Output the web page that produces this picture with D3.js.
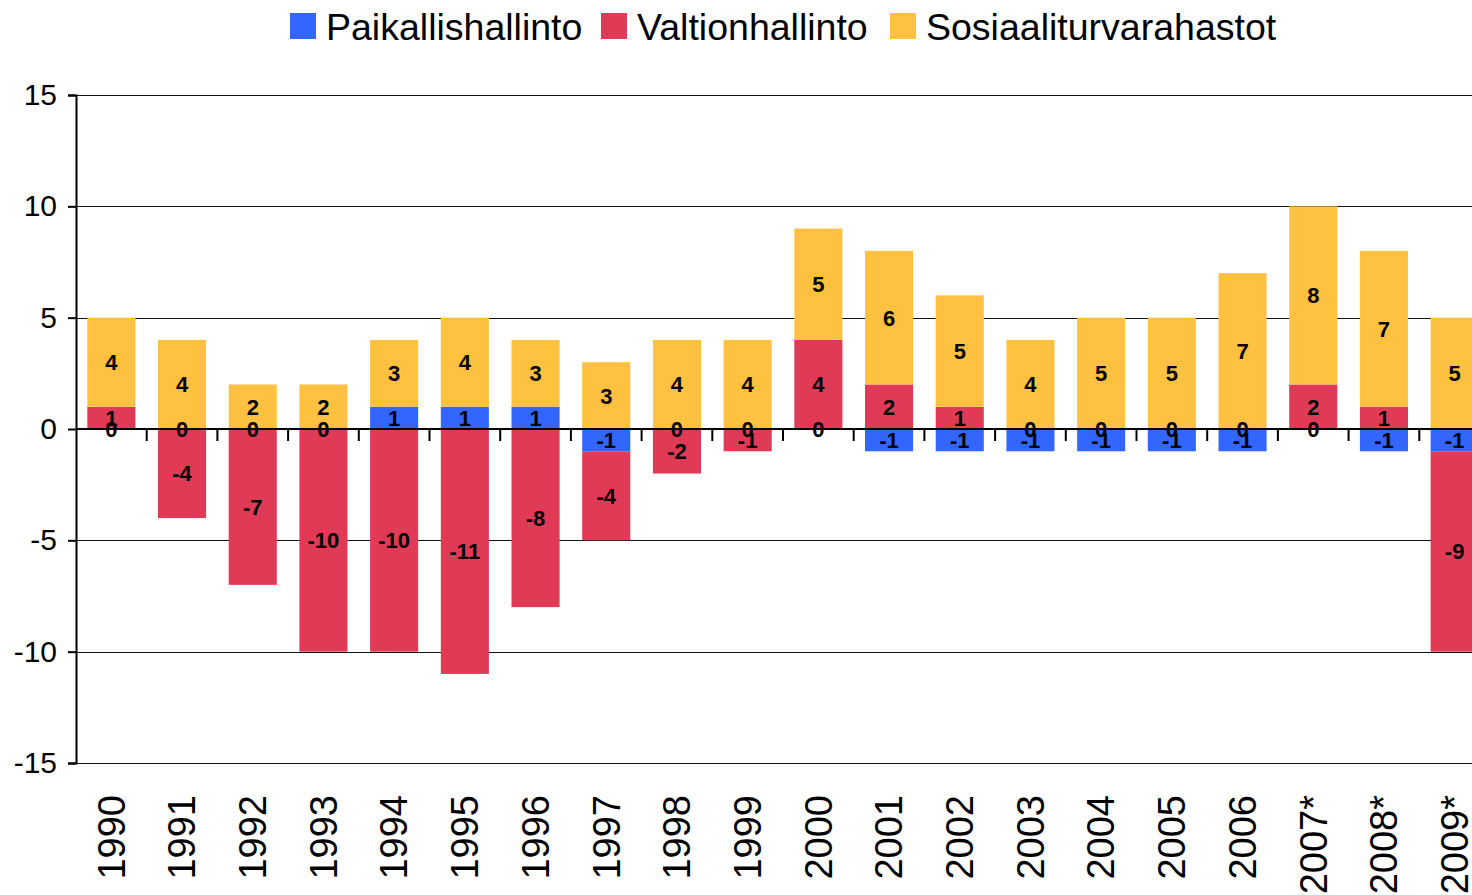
<!DOCTYPE html>
<html>
<head>
<meta charset="utf-8">
<script src="https://cdn.jsdelivr.net/npm/d3@7"></script>
<style>
    html, body { margin: 0; padding: 0; background: #fff; }
    svg { display: block; overflow: hidden; font-family: 'Liberation Sans', Arial, sans-serif; }
</style>
</head>
<body>
<div id="chart"></div>
<script>
const years = ['1990', '1991', '1992', '1993', '1994', '1995', '1996', '1997', '1998', '1999',
    '2000', '2001', '2002', '2003', '2004', '2005', '2006', '2007*', '2008*', '2009*'];
const paikallishallinto = [0, 0, 0, 0, 1, 1, 1, -1, 0, 0, 0, -1, -1, -1, -1, -1, -1, 0, -1, -1];
const valtionhallinto = [1, -4, -7, -10, -10, -11, -8, -4, -2, -1, 4, 2, 1, 0, 0, 0, 0, 2, 1, -9];
const sosiaaliturvarahastot = [4, 4, 2, 2, 3, 4, 3, 3, 4, 4, 5, 6, 5, 4, 5, 5, 7, 8, 7, 5];
const seriesNames = ['Paikallishallinto', 'Valtionhallinto', 'Sosiaaliturvarahastot'];
const seriesColors = ['#3366ff', '#e03a56', '#ffc13f'];
const yTicks = [-15, -10, -5, 0, 5, 10, 15];

function getDimensions() {
    return {
        width: 1472,
        height: 895,
        left: 76,
        right: 1490,
        top: 95,
        bottom: 763
    };
}

function buildRows() {
    const values = [paikallishallinto, valtionhallinto, sosiaaliturvarahastot];
    return years.map((year, i) => {
        const row = { year };
        seriesNames.forEach((name, s) => { row[name] = values[s][i]; });
        return row;
    });
}

function drawChart() {
    const dim = getDimensions();
    const rows = buildRows();

    const svg = d3.select('#chart')
        .append('svg')
        .attr('width', dim.width)
        .attr('height', dim.height);

    //scales
    const x = d3.scaleBand()
        .domain(years)
        .range([dim.left, dim.right])
        .paddingInner(0.32)
        .paddingOuter(0.16);
    const y = d3.scaleLinear()
        .domain([-15, 15])
        .range([dim.bottom, dim.top]);
    const color = d3.scaleOrdinal().domain(seriesNames).range(seriesColors);

    //grid lines
    svg.append('g')
        .classed('grid-lines', true)
        .selectAll('line')
        .data(yTicks.filter(d => d !== 0))
        .join('line')
        .attr('x1', dim.left)
        .attr('x2', dim.right)
        .attr('y1', d => Math.round(y(d)) + 0.5)
        .attr('y2', d => Math.round(y(d)) + 0.5)
        .attr('stroke', '#111')
        .attr('stroke-width', 1.2);

    //stacked bars
    const stack = d3.stack()
        .keys(seriesNames)
        .offset(d3.stackOffsetDiverging);
    const stacked = stack(rows);

    const layers = svg.append('g')
        .classed('bars', true)
        .selectAll('g')
        .data(stacked)
        .join('g')
        .attr('fill', d => color(d.key));

    layers.selectAll('rect')
        .data(d => d)
        .join('rect')
        .attr('x', d => x(d.data.year))
        .attr('width', x.bandwidth())
        .attr('y', d => y(d[1]))
        .attr('height', d => y(d[0]) - y(d[1]));

    //y axis
    const yAxis = svg.append('g')
        .classed('axis axis--y', true)
        .attr('transform', `translate(${dim.left},0)`)
        .call(d3.axisLeft(y).tickValues(yTicks).tickSize(8).tickPadding(11).tickFormat(d => String(d)));
    yAxis.select('.domain').attr('stroke', '#000').attr('stroke-width', 2);
    yAxis.selectAll('.tick line').attr('stroke', '#000').attr('stroke-width', 2);
    yAxis.selectAll('.tick text')
        .attr('fill', '#000')
        .style('font-size', '30px')
        .style('font-family', "'Liberation Sans', Arial, sans-serif");

    //x axis at zero
    const gap = x.step() - x.bandwidth();
    const boundaries = years.slice(1).map(d => x(d) - gap / 2);
    const xAxis = svg.append('g')
        .classed('axis axis--x', true);
    xAxis.append('line')
        .attr('x1', dim.left)
        .attr('x2', dim.right)
        .attr('y1', y(0))
        .attr('y2', y(0))
        .attr('stroke', '#000')
        .attr('stroke-width', 2);
    xAxis.selectAll('line.tick')
        .data(boundaries)
        .join('line')
        .classed('tick', true)
        .attr('x1', d => d)
        .attr('x2', d => d)
        .attr('y1', y(0))
        .attr('y2', y(0) + 12)
        .attr('stroke', '#000')
        .attr('stroke-width', 2);

    //category labels
    svg.append('g')
        .classed('labels labels--x', true)
        .selectAll('text')
        .data(years)
        .join('text')
        .attr('transform', d => `translate(${x(d) + x.bandwidth() / 2},795) rotate(-90)`)
        .attr('dy', '0.35em')
        .attr('text-anchor', 'end')
        .style('font-size', '38px')
        .attr('fill', '#000')
        .text(d => d);

    //data labels
    svg.append('g')
        .classed('labels labels--data', true)
        .selectAll('g')
        .data(stacked)
        .join('g')
        .selectAll('text')
        .data(d => d.map(p => ({ p, key: d.key })))
        .join('text')
        .attr('x', d => x(d.p.data.year) + x.bandwidth() / 2)
        .attr('y', d => y((d.p[0] + d.p[1]) / 2))
        .attr('dy', '0.36em')
        .attr('text-anchor', 'middle')
        .style('font-size', '22px')
        .style('font-weight', 'bold')
        .attr('fill', '#000')
        .text(d => String(d.p.data[d.key]));

    //legend
    const legendItems = [
        { name: seriesNames[0], x: 290 },
        { name: seriesNames[1], x: 601 },
        { name: seriesNames[2], x: 890 }
    ];
    const legend = svg.append('g')
        .classed('legend', true)
        .selectAll('g')
        .data(legendItems)
        .join('g')
        .attr('transform', d => `translate(${d.x},13)`);
    legend.append('rect')
        .attr('width', 26)
        .attr('height', 26)
        .attr('fill', d => color(d.name));
    legend.append('text')
        .attr('x', 36)
        .attr('y', 13)
        .attr('dy', '0.36em')
        .style('font-size', '37.5px')
        .attr('fill', '#000')
        .text(d => d.name);
}

drawChart();
</script>
</body>
</html>
